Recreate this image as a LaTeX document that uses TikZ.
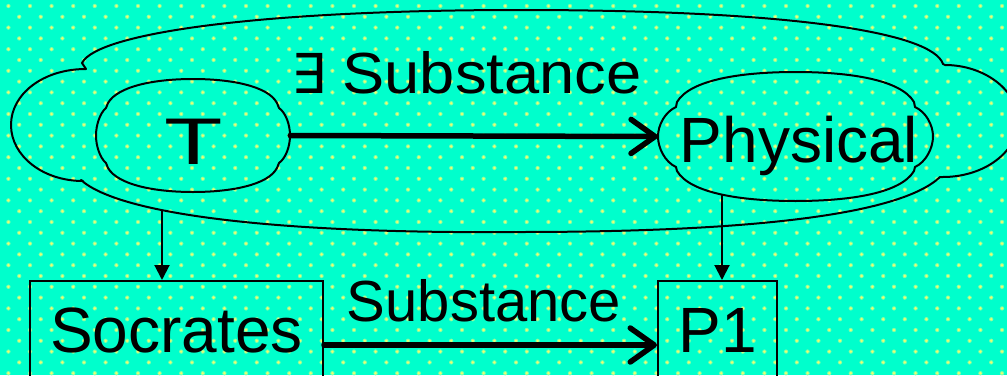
\documentclass[tikz,border=0pt]{standalone}
\usepackage{fontspec}
\usepackage{graphicx}
\setmainfont{Liberation Sans}
\newfontfamily\dejavu{DejaVu Sans}
\usetikzlibrary{arrows.meta,shapes.geometric}
\definecolor{bgc}{RGB}{0,255,204}
\definecolor{dotc}{RGB}{236,255,110}
\definecolor{haloc}{RGB}{120,255,170}
\tikzset{
  cloudline/.style={draw=black, line width=2pt, line join=round},
  cloudnode/.style={ellipse, draw=none, inner sep=0pt},
  boxnode/.style={rectangle, draw=black, line width=2pt, inner sep=0pt, font=\fontsize{64pt}{70pt}\selectfont},
  bigtext/.style={inner sep=0pt, anchor=base, font=\fontsize{64pt}{70pt}\selectfont},
  labtext/.style={inner sep=0pt, anchor=base, font=\fontsize{58pt}{64pt}\selectfont},
  thickarrow/.style={line width=5.5pt, line cap=round, -{Straight Barb[length=24pt,width=34pt,round]}},
  thinarrow/.style={line width=2pt, -{Triangle[length=15pt,width=15pt]}}
}
\begin{document}
\begin{tikzpicture}[x=1pt,y=-1pt]
\useasboundingbox (0,0) rectangle (1007,375);
\clip (0,0) rectangle (1007,375);
\fill[bgc] (0,0) rectangle (1007,375);
\foreach \r in {0,...,35}{
  \foreach \c in {0,...,47}{
    \fill[haloc] ({8.4+10.8*mod(\r,2)+21.6*\c},{6+10.8*\r}) circle (2.2);
    \fill[dotc] ({8.4+10.8*mod(\r,2)+21.6*\c},{6+10.8*\r}) circle (1.4);
  }
}
% outer cloud
\draw[cloudline] (82,63) .. controls (97,33) and (260,10) .. (520,10)
  .. controls (790,10) and (932,32) .. (943,64)
  -- (945,65) .. controls (984,65) and (1018,90) .. (1018,121)
  .. controls (1018,152) and (984,177) .. (943,177)
  -- (940,177) .. controls (900,215) and (750,232) .. (520,232)
  .. controls (280,234) and (120,215) .. (81,180)
  -- (83,181) .. controls (43,181) and (11,156) .. (11,125)
  .. controls (11,94) and (43,69) .. (86,69) -- cycle;
\node[cloudnode, minimum width=1010pt, minimum height=222pt] (Oc) at (512,121) {};
% T cloud
\draw[cloudline] (108,103) .. controls (118,86) and (155,79) .. (193,79)
  .. controls (231,79) and (268,86) .. (277,103)
  -- (279,108) .. controls (286,113) and (290,125) .. (290,135.5)
  .. controls (290,146) and (286,158) .. (279,163)
  -- (277,168) .. controls (268,185) and (231,192) .. (193,192)
  .. controls (155,192) and (118,185) .. (108,168)
  -- (106,163) .. controls (100,158) and (96,146) .. (96,135.5)
  .. controls (96,125) and (100,113) .. (106,108) -- cycle;
\node[cloudnode, minimum width=194pt, minimum height=113pt] (Tc) at (193,135.5) {};
\node[bigtext, font=\fontsize{66pt}{70pt}\selectfont] (Tt) at (193.5,164) {\scalebox{1.45}[1]{T}};
% Physical cloud
\draw[cloudline] (677,102) .. controls (690,80) and (740,72) .. (795.5,72)
  .. controls (851,72) and (901,80) .. (914,102)
  -- (915,107) .. controls (926,112) and (933,125) .. (933,136.5)
  .. controls (933,148) and (926,162) .. (915,167)
  -- (914,171) .. controls (901,193) and (851,201) .. (795.5,201)
  .. controls (740,201) and (690,193) .. (677,171)
  -- (676,167) .. controls (665,162) and (658,148) .. (658,136.5)
  .. controls (658,125) and (665,112) .. (676,107) -- cycle;
\node[cloudnode, minimum width=275pt, minimum height=129pt] (Pc) at (795.5,136.5) {};
\node[bigtext] (Pt) at (799,162) {Physical};
% boxes
\node[boxnode, minimum width=293pt, minimum height=98pt] (Soc) at (176.5,330) {Socrates};
\node[boxnode, minimum width=119pt, minimum height=98pt] (P1) at (717.5,330) {P1};
% connectors
\draw[thickarrow] (Tc.east) -- (Pc.west);
\node[labtext] (lab1) at (466.5,93) {{\dejavu\fontsize{55pt}{60pt}\selectfont ∃} \scalebox{1.09}[1]{Substance}};
\draw[thickarrow] ([yshift=-15pt]Soc.east) -- ([yshift=-15pt]P1.west);
\node[labtext] (lab2) at (484,321) {Substance};
\coordinate (o1) at (162,210);
\coordinate (p1) at (722,195);
\draw[thinarrow] (o1) -- (o1 |- Soc.north);
\draw[thinarrow] (p1) -- (p1 |- P1.north);
\end{tikzpicture}
\end{document}
